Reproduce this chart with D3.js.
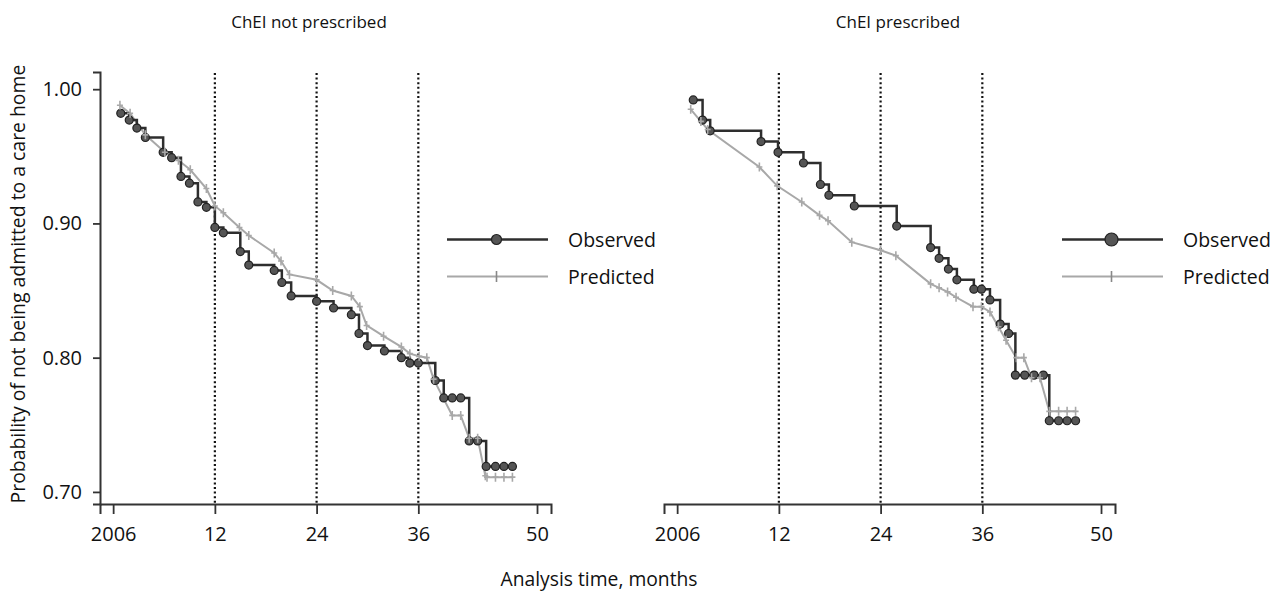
<!DOCTYPE html>
<html>
<head>
<meta charset="utf-8">
<script src="https://cdn.jsdelivr.net/npm/d3@7"></script>
<style>
  body { margin: 0; background: #fff; }
  svg text { font-family: "Open Sans", sans-serif; fill: #111; }
</style>
</head>
<body>
<div id="chart"></div>
<script>
// Observed (KM) vs predicted (Cox) survival free of care-home admission,
// two panels: ChEI not prescribed / ChEI prescribed. [month, probability]

const obsNotPrescribed = [
  [0.9, 0.982], [1.9, 0.977], [2.8, 0.971], [3.8, 0.964], [5.9, 0.953], [6.9, 0.949],
  [8.0, 0.935], [9.0, 0.930], [10.0, 0.916], [11.0, 0.912], [12.0, 0.897], [13.0, 0.893],
  [15.0, 0.879], [16.0, 0.869], [19.0, 0.865], [19.9, 0.856], [21.0, 0.846], [24.0, 0.842],
  [26.0, 0.837], [28.1, 0.832], [29.0, 0.818], [30.0, 0.809], [32.0, 0.805], [34.0, 0.800],
  [35.0, 0.796], [36.0, 0.796], [38.0, 0.783], [39.0, 0.770], [40.0, 0.770], [41.0, 0.770],
  [42.0, 0.738], [43.0, 0.738], [44.0, 0.719], [45.1, 0.719], [46.1, 0.719], [47.1, 0.719]
];

const predNotPrescribed = [
  [0.8, 0.988], [2.0, 0.982], [3.8, 0.966], [6.1, 0.953], [7.7, 0.947], [9.1, 0.940],
  [11.0, 0.926], [12.0, 0.913], [13.0, 0.908], [14.9, 0.897], [16.0, 0.891], [19.0, 0.878],
  [19.8, 0.872], [20.8, 0.862], [24.0, 0.858], [25.9, 0.850], [28.1, 0.846], [29.1, 0.838],
  [29.9, 0.824], [31.9, 0.816], [34.0, 0.808], [35.0, 0.803], [36.1, 0.801], [37.0, 0.800],
  [37.8, 0.784], [40.0, 0.757], [41.0, 0.757], [42.0, 0.740], [43.0, 0.740], [43.9, 0.712],
  [44.1, 0.711], [45.1, 0.711], [46.1, 0.711], [47.1, 0.711]
];

const obsPrescribed = [
  [1.9, 0.992], [3.0, 0.977], [3.9, 0.969], [9.9, 0.961], [11.9, 0.953], [14.9, 0.945],
  [16.9, 0.929], [17.9, 0.921], [20.9, 0.913], [25.9, 0.898], [29.9, 0.882], [30.9, 0.874],
  [32.0, 0.866], [33.0, 0.858], [35.0, 0.851], [35.9, 0.851], [36.9, 0.843], [38.1, 0.825],
  [39.1, 0.818], [39.9, 0.787], [41.0, 0.787], [42.1, 0.787], [43.2, 0.787], [43.9, 0.753],
  [45.0, 0.753], [46.0, 0.753], [47.0, 0.753]
];

const predPrescribed = [
  [1.6, 0.985], [2.8, 0.976], [3.6, 0.970], [9.7, 0.942], [11.8, 0.928], [14.7, 0.916],
  [16.8, 0.906], [17.8, 0.902], [20.6, 0.886], [24.0, 0.880], [25.8, 0.876], [29.9, 0.855],
  [30.9, 0.852], [31.9, 0.849], [32.9, 0.845], [34.9, 0.838], [35.9, 0.838], [36.9, 0.834],
  [37.9, 0.823], [38.8, 0.813], [40.0, 0.800], [40.9, 0.800], [41.8, 0.785], [42.8, 0.785],
  [43.9, 0.760], [45.0, 0.760], [46.0, 0.760], [47.0, 0.760]
];

const xTickValues = [0, 12, 24, 36, 50];
const xTickLabels = ['2006', '12', '24', '36', '50'];
const yTickValues = [0.70, 0.80, 0.90, 1.00];
const yearLines = [12, 24, 36];
const panelTitles = ['ChEI not prescribed', 'ChEI prescribed'];
const legendLabels = ['Observed', 'Predicted'];

const W = 1278, H = 591;
const OBS_COLOR = '#2e2e2e', PRED_COLOR = '#a8a8a8';
const TICK_FONT = 20;

const svg = d3.select('#chart').append('svg').attr('width', W).attr('height', H);

// shared y scale; axis line runs a bit past 1.00 and below 0.70
const y = d3.scaleLinear().domain([0.691, 1.0128]).range([504, 72]);

const panels = [
  { title: panelTitles[0], obs: obsNotPrescribed, pred: predNotPrescribed, range: [100, 551], showY: true, legendX: 447, legendR: 5, titleX: 309 },
  { title: panelTitles[1], obs: obsPrescribed, pred: predPrescribed, range: [664, 1115], showY: false, legendX: 1062, legendR: 6.5, titleX: 898 },
];

const plus = (px, py) => `M${px - 3},${py}h6M${px},${py - 4.5}v9`;

panels.forEach((p) => {
  const x = d3.scaleLinear().domain([-1.55, 51.65]).range(p.range);
  const g = svg.append('g');

  // dotted yearly reference lines
  g.selectAll('line.year')
    .data(yearLines)
    .join('line')
    .attr('x1', (d) => x(d)).attr('x2', (d) => x(d))
    .attr('y1', 73).attr('y2', 504)
    .attr('stroke', '#111').attr('stroke-width', 2.2)
    .attr('stroke-dasharray', '2,2.6');

  // x axis
  const xAxis = g.append('g').attr('transform', 'translate(0,504)')
    .call(d3.axisBottom(x).tickValues(xTickValues).tickSizeOuter(0).tickSize(10).tickPadding(13)
      .tickFormat((d, i) => xTickLabels[i]));
  xAxis.select('.domain').attr('stroke', '#333').attr('stroke-width', 2);
  xAxis.selectAll('.tick line').attr('stroke', '#333').attr('stroke-width', 1.8);
  xAxis.selectAll('.tick text').attr('font-size', TICK_FONT).style('font-family', '"Open Sans", sans-serif').attr('fill', '#111');

  if (p.showY) {
    const yAxis = g.append('g').attr('transform', `translate(${p.range[0]},0)`)
      .call(d3.axisLeft(y).tickValues(yTickValues).tickSizeOuter(0).tickSize(7).tickPadding(11)
        .tickFormat(d3.format('.2f')));
    yAxis.select('.domain').attr('stroke', '#333').attr('stroke-width', 2);
    yAxis.selectAll('.tick line').attr('stroke', '#333').attr('stroke-width', 1.8);
    yAxis.selectAll('.tick text').attr('font-size', TICK_FONT).style('font-family', '"Open Sans", sans-serif').attr('fill', '#111');
  }

  // predicted: straight segments with + markers
  g.append('path')
    .datum(p.pred)
    .attr('fill', 'none').attr('stroke', PRED_COLOR).attr('stroke-width', 2)
    .attr('d', d3.line().x((d) => x(d[0])).y((d) => y(d[1])));

  // observed: step function with circles
  g.append('path')
    .datum(p.obs)
    .attr('fill', 'none').attr('stroke', OBS_COLOR).attr('stroke-width', 2.5)
    .attr('d', d3.line().curve(d3.curveStepAfter).x((d) => x(d[0])).y((d) => y(d[1])));

  g.selectAll('circle.obs')
    .data(p.obs)
    .join('circle')
    .attr('cx', (d) => x(d[0])).attr('cy', (d) => y(d[1])).attr('r', 4)
    .attr('fill', '#555').attr('stroke', '#222').attr('stroke-width', 1.2);

  g.selectAll('path.pred')
    .data(p.pred)
    .join('path')
    .attr('d', (d) => plus(x(d[0]), y(d[1])))
    .attr('stroke', PRED_COLOR).attr('stroke-width', 1.6).attr('fill', 'none');

  // panel title
  g.append('text')
    .attr('x', p.titleX).attr('y', 28)
    .attr('text-anchor', 'middle').attr('font-size', 17)
    .text(p.title);

  // legend
  const lx = p.legendX;
  const leg = g.append('g');
  leg.append('line').attr('x1', lx).attr('x2', lx + 101).attr('y1', 239.5).attr('y2', 239.5)
    .attr('stroke', OBS_COLOR).attr('stroke-width', 2.5);
  leg.append('circle').attr('cx', lx + 49.5).attr('cy', 239.5).attr('r', p.legendR)
    .attr('fill', '#555').attr('stroke', '#222').attr('stroke-width', 1.2);
  leg.append('line').attr('x1', lx).attr('x2', lx + 101).attr('y1', 276.5).attr('y2', 276.5)
    .attr('stroke', PRED_COLOR).attr('stroke-width', 2);
  leg.append('line').attr('x1', lx + 49.5).attr('x2', lx + 49.5).attr('y1', 271).attr('y2', 282)
    .attr('stroke', '#888').attr('stroke-width', 1.6);
  leg.selectAll('text')
    .data(legendLabels)
    .join('text')
    .attr('x', lx + 121).attr('y', (d, i) => 246.5 + i * 37)
    .attr('font-size', 19.5)
    .text((d) => d);
});

// shared axis titles
svg.append('text')
  .attr('transform', 'translate(25,284) rotate(-90)')
  .attr('text-anchor', 'middle').attr('font-size', 19.4)
  .text('Probability of not being admitted to a care home');

svg.append('text')
  .attr('x', 599).attr('y', 586)
  .attr('text-anchor', 'middle').attr('font-size', 19.3)
  .text('Analysis time, months');
</script>
</body>
</html>
